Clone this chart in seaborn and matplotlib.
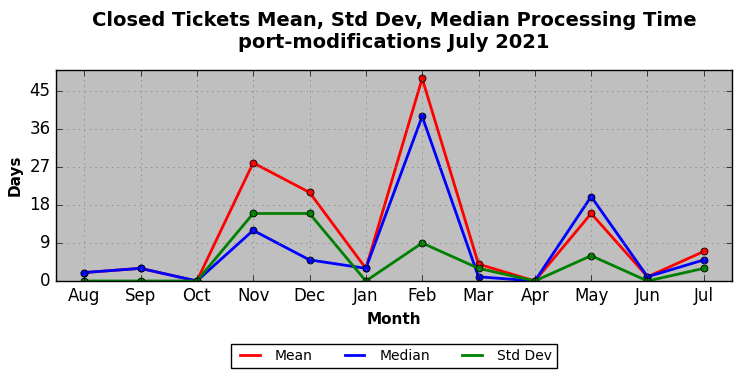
import pandas as pd
import matplotlib
matplotlib.use('Agg')
import matplotlib.pyplot as plt
import seaborn as sns

months = ['Aug', 'Sep', 'Oct', 'Nov', 'Dec', 'Jan', 'Feb', 'Mar', 'Apr', 'May', 'Jun', 'Jul']
mean_days = [2, 3, 0, 28, 21, 3, 48, 4, 0, 16, 1, 7]
median_days = [2, 3, 0, 12, 5, 3, 39, 1, 0, 20, 1, 5]
std_days = [0, 0, 0, 16, 16, 0, 9, 3, 0, 6, 0, 3]

rows = []
for name, vals in [('Mean', mean_days), ('Median', median_days), ('Std Dev', std_days)]:
    for i, v in enumerate(vals):
        rows.append({'pos': i, 'Month': months[i], 'Days': v, 'stat': name})
df = pd.DataFrame(rows)

plt.style.use('classic')
plt.rcParams['font.family'] = 'DejaVu Sans'

fig = plt.figure(figsize=(7.42, 3.78), dpi=100, facecolor='white')
ax = fig.add_axes([56/742, 1-281/378, 676/742, 211/378])
ax.set_facecolor('#bfbfbf')

ax = sns.lineplot(data=df, x='pos', y='Days', hue='stat', ax=ax,
                  palette={'Mean': 'red', 'Median': 'blue', 'Std Dev': 'green'},
                  linewidth=2, marker='o', markersize=5, markeredgecolor='black',
                  markeredgewidth=0.6)

ax.set_xticks(range(len(months)))
ax.set_xticklabels(months)
ax.set_yticks([0, 9, 18, 27, 36, 45])
ax.set_xlim(-0.5, 11.5)
ax.set_ylim(0, 50)
ax.grid(True, linestyle=':', color='#777777')
ax.set_xlabel('Month', fontweight='bold', fontsize=11)
ax.set_ylabel('Days', fontweight='bold', fontsize=11)
ax.set_title('Closed Tickets Mean, Std Dev, Median Processing Time\nport-modifications July 2021',
             fontweight='bold', fontsize=14, pad=16)

handles, labels = ax.get_legend_handles_labels()
leg = ax.legend(handles, labels, loc='upper center', bbox_to_anchor=(0.5, -0.265),
                ncol=3, fontsize=10, fancybox=False, frameon=True,
                handlelength=2.0, columnspacing=2.0, borderpad=0.35)
for h in leg.legend_handles:
    h.set_marker('')

fig.savefig('out.png', dpi=100, facecolor='white')
